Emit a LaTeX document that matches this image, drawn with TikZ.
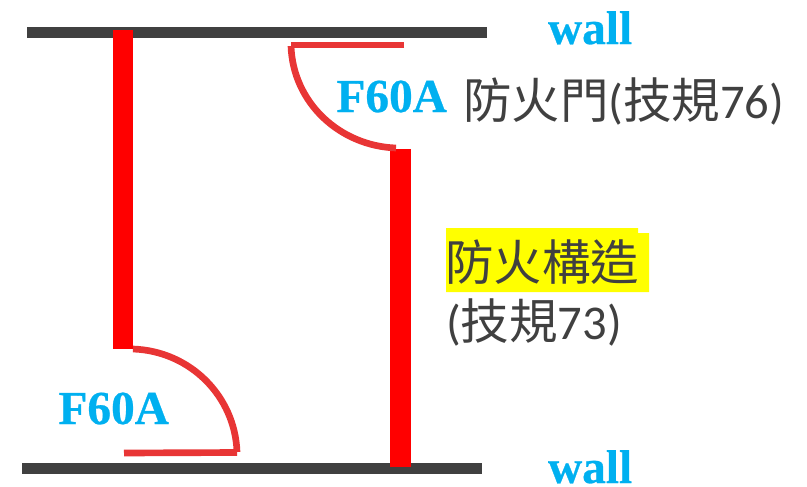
\documentclass[tikz,border=0pt]{standalone}
\usepackage{fontspec}
\setmainfont[BoldFeatures={FakeBold=0.6}]{Liberation Serif}
\newfontfamily\cjkfont{Noto Sans CJK TC}
\newfontfamily\latfont{Carlito}
\definecolor{wallgrey}{HTML}{404040}
\definecolor{firered}{HTML}{FF0000}
\definecolor{doorred}{HTML}{E83535}
\definecolor{labelblue}{HTML}{00B0F0}
\definecolor{hl}{HTML}{FFFF00}
\tikzset{
  x=0.75pt,y=-0.75pt,
  wallbar/.style={fill=wallgrey,draw=none},
  firebar/.style={fill=firered,draw=none},
  door/.style={draw=doorred,line width=5pt,line cap=butt,line join=miter},
  tag/.style={anchor=base west,inner sep=0pt,outer sep=0pt,text=labelblue,font=\rmfamily\bfseries\fontsize{35.5pt}{35.5pt}\selectfont},
  note/.style={anchor=base west,inner sep=0pt,outer sep=0pt,text=wallgrey,font=\fontsize{36.4pt}{36.4pt}\selectfont},
}
\begin{document}
\begin{tikzpicture}
\useasboundingbox (0,0) rectangle (807,486);
\fill[white] (0,0) rectangle (807,486);
% walls
\path[wallbar] (27,27) rectangle (487,38);
\path[wallbar] (22,463) rectangle (482,474);
% fire-rated partitions
\path[firebar] (113,30) rectangle (133,349);
\path[firebar] (390,149) rectangle (411,467);
% highlight
\fill[hl] (446,228) -- (638,228) -- (638,233) -- (649,233) -- (649,292) -- (446,292) -- cycle;
% doors
\draw[door] (404,45) -- (291,45);
\draw[door] (291,46) .. controls (293,103) and (340,146) .. (396,148);
\draw[door] (133,349) .. controls (190,351) and (235,396) .. (237,452);
\draw[door] (124,453) -- (237,452.5);
% labels
\node[tag] (walltop) at (548,44) {wall};
\node[tag] (wallbot) at (548,483) {wall};
\node[tag] (ftop) at (336.5,112) {F60A};
\node[tag] (fbot) at (58.5,424) {F60A};
\node[note] (doorlabel) at (463,118) {\cjkfont 防火門\latfont(\cjkfont 技規\latfont 76)};
\node[note] (struct) at (445,280) {\cjkfont 防火構造};
\node[note] (structref) at (446,339) {\latfont(\cjkfont 技規\latfont 73)};
\end{tikzpicture}
\end{document}
